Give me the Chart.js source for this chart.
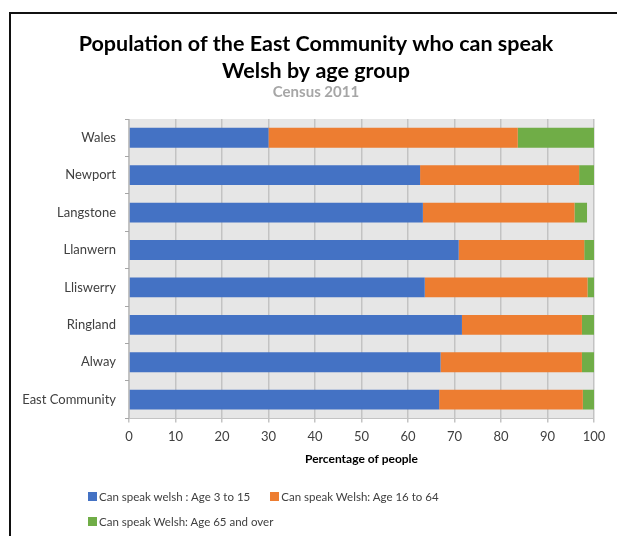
<!DOCTYPE html>
<html>
<head>
<meta charset="utf-8">
<script src="https://cdn.jsdelivr.net/npm/chart.js@4"></script>
<style>
  body { margin: 0; background: #fff; }
  #wrap { position: relative; width: 617px; height: 536px; overflow: hidden; }
  #frame { position: absolute; left: 9px; top: 12px; width: 700px; height: 600px;
           border-left: 2px solid #111; border-top: 2px solid #111; }
  canvas { position: absolute; left: 0; top: 0; }
  #legend { position: absolute; left: 88px; top: 489px; width: 480px;
            font-family: Lato, sans-serif; font-size: 11.5px; color: #404040; }
  .item { display: inline-block; margin-right: 20px; height: 25px; line-height: 16px; }
  .box { display: inline-block; width: 9px; height: 9px; margin-right: 2px; }
</style>
</head>
<body>
<div id="wrap">
  <div id="frame"></div>
  <canvas id="welshChart" width="617" height="536"></canvas>
  <div id="legend"></div>
</div>
<script>
const welshChart = document.getElementById('welshChart');

let areaNames = ['Wales', 'Newport', 'Langstone', 'Llanwern', 'Lliswerry', 'Ringland', 'Alway', 'East Community'];
let age3to15 = [30.0, 62.6, 63.2, 70.9, 63.6, 71.6, 67.0, 66.7];
let age16to64 = [53.6, 34.2, 32.6, 27.0, 35.0, 25.8, 30.4, 30.9];
let age65plus = [16.4, 3.2, 2.7, 2.1, 1.4, 2.6, 2.6, 2.4];
let xTicks = [0, 10, 20, 30, 40, 50, 60, 70, 80, 90, 100];
let titleLines = ['Population of the East Community who can speak', 'Welsh by age group'];
let subTitle = 'Census 2011';

const fontName = 'Lato, sans-serif';

/* grey background behind the bars */
const plotBg = {
  id: 'plotBg',
  beforeDraw(chart) {
    const a = chart.chartArea;
    const ctx = chart.ctx;
    ctx.save();
    ctx.fillStyle = '#e6e6e6';
    ctx.fillRect(a.left, a.top, a.right - a.left, a.bottom - a.top);
    ctx.restore();
  }
};

/* title is centred on the frame, not on the canvas, so draw it here */
const frameTitle = {
  id: 'frameTitle',
  afterDraw(chart) {
    const ctx = chart.ctx;
    const cx = 316;
    ctx.save();
    ctx.textAlign = 'center';
    ctx.textBaseline = 'middle';
    ctx.fillStyle = '#000';
    ctx.font = 'bold 21.5px ' + fontName;
    titleLines.forEach((line, i) => ctx.fillText(line, cx, 44 + i * 27));
    ctx.fillStyle = '#a6a6a6';
    ctx.font = 'bold 15px ' + fontName;
    ctx.fillText(subTitle, cx, 92);
    ctx.restore();
  }
};

const chart = new Chart(welshChart, {
  type: 'bar',
  data: {
    labels: areaNames,
    datasets: [{
      label: 'Can speak welsh : Age 3 to 15',
      data: age3to15,
      backgroundColor: '#4472c4'
    },
    {
      label: 'Can speak Welsh: Age 16 to 64',
      data: age16to64,
      backgroundColor: '#ed7d31'
    },
    {
      label: 'Can speak Welsh: Age 65 and over',
      data: age65plus,
      backgroundColor: '#70ad47'
    }]
  },
  plugins: [plotBg, frameTitle],
  options: {
    responsive: false,
    animation: false,
    indexAxis: 'y',
    barPercentage: 1,
    categoryPercentage: 0.53,
    layout: { padding: { top: 119, left: 0, right: 23, bottom: 71 } },
    plugins: {
      legend: { display: false },
      tooltip: { enabled: false },
      title: { display: false }
    },
    scales: {
      x: {
        stacked: true,
        min: 0,
        max: 100,
        afterBuildTicks(scale) {
          scale.ticks = xTicks.map(v => ({ value: v }));
        },
        ticks: { color: '#404040', font: { family: fontName, size: 13 }, padding: 7 },
        grid: { color: '#c3c3c3', lineWidth: 1.5, tickLength: 4 },
        border: { color: '#c3c3c3' },
        title: {
          display: true,
          text: 'Percentage of people',
          color: '#000',
          font: { family: fontName, size: 12, weight: 'bold', lineHeight: 1 },
          padding: { top: 1, bottom: 0 }
        }
      },
      y: {
        stacked: true,
        afterFit(scale) { scale.width = 129; },
        ticks: { color: '#404040', font: { family: fontName, size: 13 }, padding: 9 },
        grid: { drawOnChartArea: false, color: '#a6a6a6', tickLength: 4 },
        border: { color: '#c3c3c3' }
      }
    }
  }
});

/* legend below the chart, two rows like the original */
const legend = document.getElementById('legend');
chart.data.datasets.forEach(ds => {
  const item = document.createElement('span');
  item.className = 'item';
  item.innerHTML = '<span class="box" style="background:' + ds.backgroundColor + '"></span>' + ds.label;
  legend.appendChild(item);
});
</script>
</body>
</html>
